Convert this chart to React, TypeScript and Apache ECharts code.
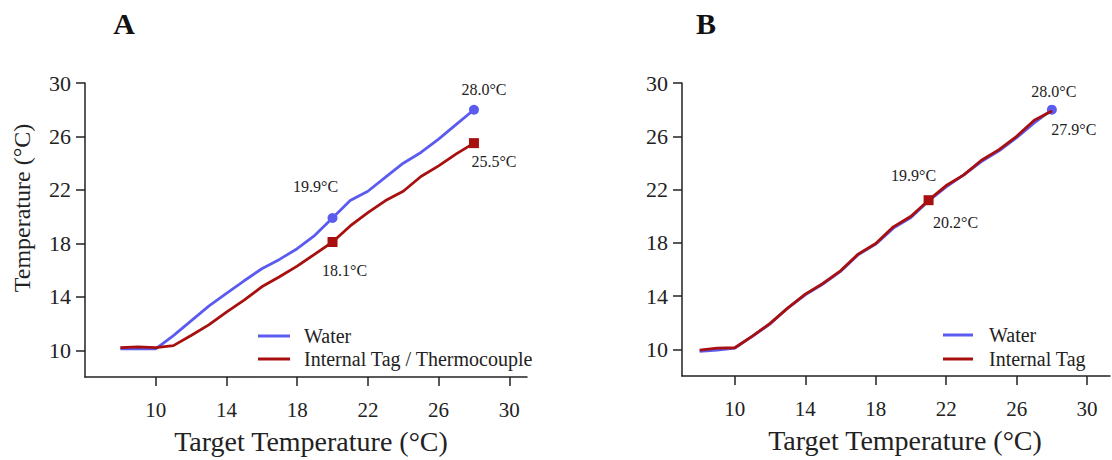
import React, { useEffect, useRef } from "react";
import * as echarts from "echarts";

// Target temperatures (°C)
const targets = [8, 9, 10, 11, 12, 13, 14, 15, 16, 17, 18, 19, 20, 21, 22, 23, 24, 25, 26, 27, 28];

// Panel A
const waterA = [10.1, 10.1, 10.1, 11.1, 12.2, 13.3, 14.25, 15.2, 16.1, 16.8, 17.6, 18.6, 19.9, 21.2, 21.9, 22.95, 24.0, 24.8, 25.8, 26.9, 28.0];
const tagA = [10.2, 10.25, 10.2, 10.35, 11.1, 11.9, 12.85, 13.75, 14.75, 15.5, 16.3, 17.2, 18.1, 19.3, 20.3, 21.2, 21.9, 23.0, 23.8, 24.7, 25.5];

// Panel B
const waterB = [9.85, 9.95, 10.1, 11.0, 11.9, 13.1, 14.1, 14.9, 15.85, 17.1, 17.9, 19.1, 19.9, 21.15, 22.2, 23.1, 24.1, 24.9, 25.9, 27.0, 28.0];
const tagB = [9.95, 10.1, 10.12, 11.0, 11.95, 13.1, 14.15, 14.95, 15.9, 17.15, 17.95, 19.2, 20.0, 21.2, 22.3, 23.1, 24.2, 25.0, 26.0, 27.2, 27.9];

// Tick values
const xTicks = [10, 14, 18, 22, 26, 30];
const yTicks = [10, 14, 18, 22, 26, 30];

// Annotated points: target temperature and label text
const waterAMarks = [20, 28];
const waterALabels = ["19.9°C", "28.0°C"];
const tagAMarks = [20, 28];
const tagALabels = ["18.1°C", "25.5°C"];
const waterBMarks = [21, 28];
const waterBLabels = ["19.9°C", "28.0°C"];
const tagBMarks = [21, 28];
const tagBLabels = ["20.2°C", "27.9°C"];

const SERIF = "'Liberation Serif', 'Times New Roman', serif";
const BLUE = "#5b5cef";
const RED = "#a80f0f";

type MarkStyle = { symbol: string; size: number; offset: number[] };

function buildData(values: number[], marks: number[], labels: string[], styles: MarkStyle[]) {
  return targets.map((t, i) => {
    const k = marks.indexOf(t);
    if (k < 0) return { value: [t, values[i]] };
    const st = styles[k];
    return {
      value: [t, values[i]],
      symbol: st.symbol,
      symbolSize: st.size,
      label: {
        show: true,
        position: "inside",
        offset: st.offset,
        formatter: labels[k],
        fontFamily: SERIF,
        fontSize: 16,
        color: "#222",
        align: "center",
        verticalAlign: "middle",
      },
    };
  });
}

function xAxis(gridIndex: number, min: number, max: number, namePadLeft: number) {
  return {
    type: "value",
    gridIndex,
    min,
    max,
    name: "Target Temperature (°C)",
    nameLocation: "middle",
    nameGap: 50,
    nameTextStyle: { fontFamily: SERIF, fontSize: 28, color: "#222", padding: [0, 0, 0, namePadLeft] },
    splitLine: { show: false },
    axisLine: { show: true, lineStyle: { color: "#222", width: 1.5 } },
    axisTick: { show: true, length: 9, customValues: xTicks, lineStyle: { color: "#222", width: 1.5 } },
    axisLabel: { customValues: xTicks, margin: 22, fontFamily: SERIF, fontSize: 21, color: "#222" },
  };
}

function yAxis(gridIndex: number) {
  return {
    type: "value",
    gridIndex,
    min: 8,
    max: 30,
    splitLine: { show: false },
    axisLine: { show: true, lineStyle: { color: "#222", width: 1.5 } },
    axisTick: { show: true, length: 9, customValues: yTicks, lineStyle: { color: "#222", width: 1.5 } },
    axisLabel: { customValues: yTicks, margin: 14, fontFamily: SERIF, fontSize: 22, color: "#222" },
  };
}

export default function App() {
  const ref = useRef<HTMLDivElement>(null);

  useEffect(() => {
    if (!ref.current) return;
    const chart = echarts.init(ref.current, undefined, { renderer: "svg" });

    const lineSeries = (name: string, color: string, xi: number, data: any[], z: number) => ({
      type: "line",
      name,
      xAxisIndex: xi,
      yAxisIndex: xi,
      data,
      symbol: "none",
      showSymbol: true,
      smooth: false,
      z,
      lineStyle: { color, width: 2.8 },
      itemStyle: { color },
      emphasis: { disabled: true },
    });

    const option: any = {
      animation: false,
      backgroundColor: "#ffffff",
      grid: [
        { left: 85, top: 83, width: 442, height: 294 },
        { left: 682, top: 83, width: 428, height: 293 },
      ],
      xAxis: [xAxis(0, 6, 31, 10), xAxis(1, 7, 31.3, 18)],
      yAxis: [yAxis(0), yAxis(1)],
      legend: [
        {
          left: 253,
          top: 321,
          orient: "vertical",
          icon: "rect",
          itemWidth: 32,
          itemHeight: 3,
          itemGap: 3,
          selectedMode: false,
          data: ["Water", "Internal Tag / Thermocouple"],
          textStyle: { fontFamily: SERIF, fontSize: 20, color: "#222", padding: [0, 0, 0, 9] },
        },
        {
          left: 938,
          top: 320,
          orient: "vertical",
          icon: "rect",
          itemWidth: 30,
          itemHeight: 3,
          itemGap: 4,
          selectedMode: false,
          data: ["Water", "Internal Tag"],
          textStyle: { fontFamily: SERIF, fontSize: 20, color: "#222", padding: [0, 0, 0, 11] },
        },
      ],
      graphic: [
        {
          type: "text",
          x: 124,
          y: 23,
          style: { text: "A", fontFamily: SERIF, fontSize: 30, fontWeight: "bold", fill: "#111", align: "center", verticalAlign: "middle" },
        },
        {
          type: "text",
          x: 706,
          y: 23,
          style: { text: "B", fontFamily: SERIF, fontSize: 30, fontWeight: "bold", fill: "#111", align: "center", verticalAlign: "middle" },
        },
        {
          type: "text",
          x: 22,
          y: 208,
          rotation: Math.PI / 2,
          style: { text: "Temperature (°C)", fontFamily: SERIF, fontSize: 24, fill: "#222", align: "center", verticalAlign: "middle" },
        },
      ],
      series: [
        lineSeries("Water", BLUE, 0, buildData(waterA, waterAMarks, waterALabels, [
          { symbol: "circle", size: 10, offset: [-17, -31] },
          { symbol: "circle", size: 10, offset: [10, -20] },
        ]), 2),
        lineSeries("Internal Tag / Thermocouple", RED, 0, buildData(tagA, tagAMarks, tagALabels, [
          { symbol: "rect", size: 10, offset: [12, 28] },
          { symbol: "rect", size: 10, offset: [20, 18] },
        ]), 3),
        lineSeries("Water", BLUE, 1, buildData(waterB, waterBMarks, waterBLabels, [
          { symbol: "circle", size: 1, offset: [-15, -25] },
          { symbol: "circle", size: 10, offset: [2, -18] },
        ]), 2),
        lineSeries("Internal Tag", RED, 1, buildData(tagB, tagBMarks, tagBLabels, [
          { symbol: "rect", size: 10, offset: [27, 22] },
          { symbol: "circle", size: 1, offset: [22, 19] },
        ]), 3),
      ],
    };

    chart.setOption(option);
    return () => chart.dispose();
  }, []);

  return (
    <div
      ref={ref}
      style={{ position: "absolute", left: 0, top: 0, width: 1112, height: 460, background: "#fff" }}
    />
  );
}
